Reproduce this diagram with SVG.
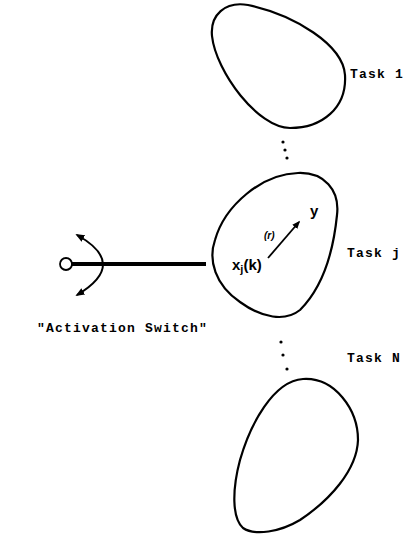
<svg xmlns="http://www.w3.org/2000/svg" width="406" height="535" viewBox="0 0 406 535">
  <style>
    .blob { fill: none; stroke: #000; stroke-width: 2.2; }
    .label { font-family: "Liberation Mono", "DejaVu Sans Mono", monospace; font-weight: bold; font-size: 13px; letter-spacing: 1.2px; fill: #000; }
    .math { font-family: "Liberation Sans", Arial, sans-serif; font-weight: bold; fill: #000; }
    .dot { fill: #000; }
    .wire { fill: none; stroke: #000; }
  </style>
  <defs>
    <marker id="head" viewBox="0 0 10 10" refX="8" refY="5" markerWidth="4.5" markerHeight="4.5" orient="auto-start-reverse" markerUnits="strokeWidth">
      <path d="M0,1 L10,5 L0,9 Z" fill="#000"/>
    </marker>
  </defs>
  <rect width="406" height="535" fill="#fff"/>

  <!-- Task 1 -->
  <g id="task1">
    <path class="blob" d="M290,128 C322,128 347,108 345,75 C343,45 295,15 248,5 C225,1 210,15 212,36 C216,72 258,128 290,128 Z"/>
    <text class="label" x="350" y="78">Task 1</text>
  </g>

  <!-- ellipsis between Task 1 and Task j -->
  <g id="dots-upper">
    <circle class="dot" cx="283" cy="142" r="1.6"/>
    <circle class="dot" cx="285" cy="150" r="1.6"/>
    <circle class="dot" cx="287" cy="158" r="1.6"/>
  </g>

  <!-- Task j with internal transition -->
  <g id="taskj">
    <path class="blob" d="M298,173 C324,172 340,190 337,215 C334,245 325,285 300,310 C285,322 262,318 240,302 C215,285 208,260 215,240 C225,205 262,174 298,173 Z"/>
    <text class="label" x="347" y="257">Task j</text>
    <text class="math" x="232" y="270" font-size="15">x<tspan font-size="11" dy="3">j</tspan><tspan dy="-3">(k)</tspan></text>
    <text class="math" x="264" y="239" font-size="10" font-style="italic">(r)</text>
    <text class="math" x="310" y="216" font-size="15">y</text>
    <line class="wire" x1="268" y1="258" x2="299" y2="222" stroke-width="1.8" marker-end="url(#head)"/>
  </g>

  <!-- ellipsis between Task j and Task N -->
  <g id="dots-lower">
    <circle class="dot" cx="281" cy="342" r="1.6"/>
    <circle class="dot" cx="283" cy="355" r="1.6"/>
    <circle class="dot" cx="287" cy="369" r="1.6"/>
  </g>

  <!-- Task N -->
  <g id="taskN">
    <path class="blob" d="M303,379 C335,377 358,410 358,440 C357,470 330,500 300,520 C280,532 255,536 243,528 C232,518 232,490 240,460 C250,425 273,381 303,379 Z"/>
    <text class="label" x="347" y="362">Task N</text>
  </g>

  <!-- activation switch -->
  <g id="switch">
    <circle cx="66" cy="264" r="6" fill="#fff" stroke="#000" stroke-width="1.8"/>
    <line class="wire" x1="72" y1="264" x2="206" y2="264" stroke-width="4"/>
    <path class="wire" d="M77,235 Q129,264 77,295" stroke-width="2" marker-start="url(#head)" marker-end="url(#head)"/>
    <text class="label" x="37" y="332">"Activation Switch"</text>
  </g>
</svg>
